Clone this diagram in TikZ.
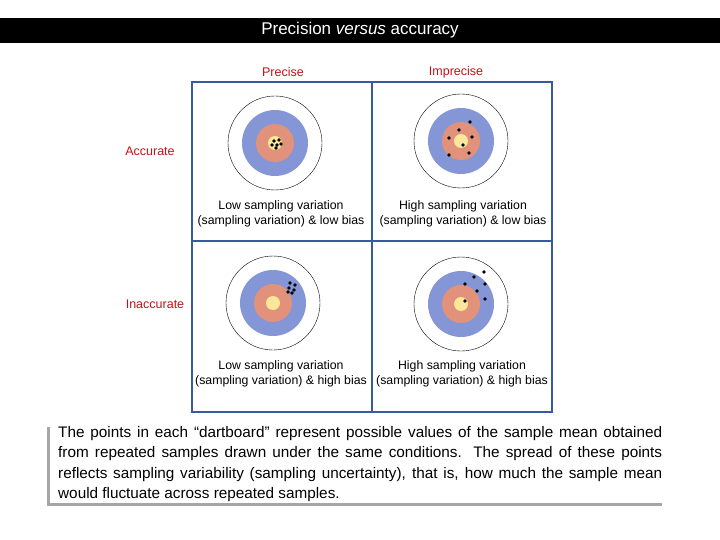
\documentclass[tikz,border=0pt]{standalone}
\usepackage{fontspec}
\setmainfont{Liberation Sans}
\definecolor{gridblue}{RGB}{55,90,160}
\definecolor{rblue}{RGB}{132,150,214}
\definecolor{rorange}{RGB}{226,146,122}
\definecolor{ryellow}{RGB}{252,230,156}
\definecolor{hdred}{RGB}{192,20,20}
\begin{document}
\begin{tikzpicture}[x=1pt,y=-1pt,
  hd/.style={text=hdred,font=\fontsize{12.5}{14}\selectfont},
  captxt/.style={align=center,font=\fontsize{12.3}{15}\selectfont},
  dot/.style={fill=black,circle,inner sep=0pt,minimum size=3.8pt}]
\useasboundingbox (0,0) rectangle (720,540);
\fill[black] (0,18) rectangle (720,43);
\node[text=white,font=\fontsize{17}{20}\selectfont] (title) at (360,30.5) {Precision \textit{versus} accuracy};
% boards
\foreach \n/\cx/\cy in {tl/275/143, tr/461/141, bl/273/303, br/461/304}{
  \draw[black,thin,fill=white] (\cx,\cy) circle (47);
  \fill[rblue] (\cx,\cy) circle (33);
  \fill[rorange] (\cx,\cy) circle (19);
  \fill[ryellow] (\cx,\cy) circle (7);
}
\foreach \p in {(274,141),(279,140),(277,145),(272,145),(281,144),(276,148)} \node[dot] at \p {};
\foreach \p in {(470,122),(459,130),(449,138),(472,137),(463,145),(469,153),(449,155)} \node[dot] at \p {};
\foreach \p in {(290,283),(295,285),(289,288),(294,290),(288,292),(292,293)} \node[dot] at \p {};
\foreach \p in {(484,272),(474,277),(465,284),(485,284),(477,291),(485,299),(465,301)} \node[dot] at \p {};
% grid
\draw[gridblue,line width=1.5pt] (192,82) rectangle (552,412);
\draw[gridblue,line width=1.5pt] (372,82) -- (372,412);
\draw[gridblue,line width=1.5pt] (192,241) -- (552,241);
\node[hd] (p) at (283,72) {Precise};
\node[hd] (ip) at (456,72) {Imprecise};
\node[hd] (a) at (150,151) {Accurate};
\node[hd] (ia) at (155,304) {Inaccurate};
\node[captxt] (c1) at (281,213.5) {Low sampling variation\\(sampling variation) \& low bias};
\node[captxt] (c2) at (463,214) {High sampling variation\\(sampling variation) \& low bias};
\node[captxt] (c3) at (281,373.5) {Low sampling variation\\(sampling variation) \& high bias};
\node[captxt] (c4) at (462,373.5) {High sampling variation\\(sampling variation) \& high bias};
\fill[black!35] (47,427) rectangle (662,506);
\fill[white] (50,424) rectangle (665,503);
\node[text width=604pt,align=justify,font=\fontsize{15.3}{20.5}\selectfont,inner sep=0pt,anchor=north west] (txt) at (58,426)
{The points in each “dartboard” represent possible values of the sample mean obtained from repeated samples drawn under the same conditions. The spread of these points reflects sampling variability (sampling uncertainty), that is, how much the sample mean would fluctuate across repeated samples.};
\end{tikzpicture}
\end{document}
